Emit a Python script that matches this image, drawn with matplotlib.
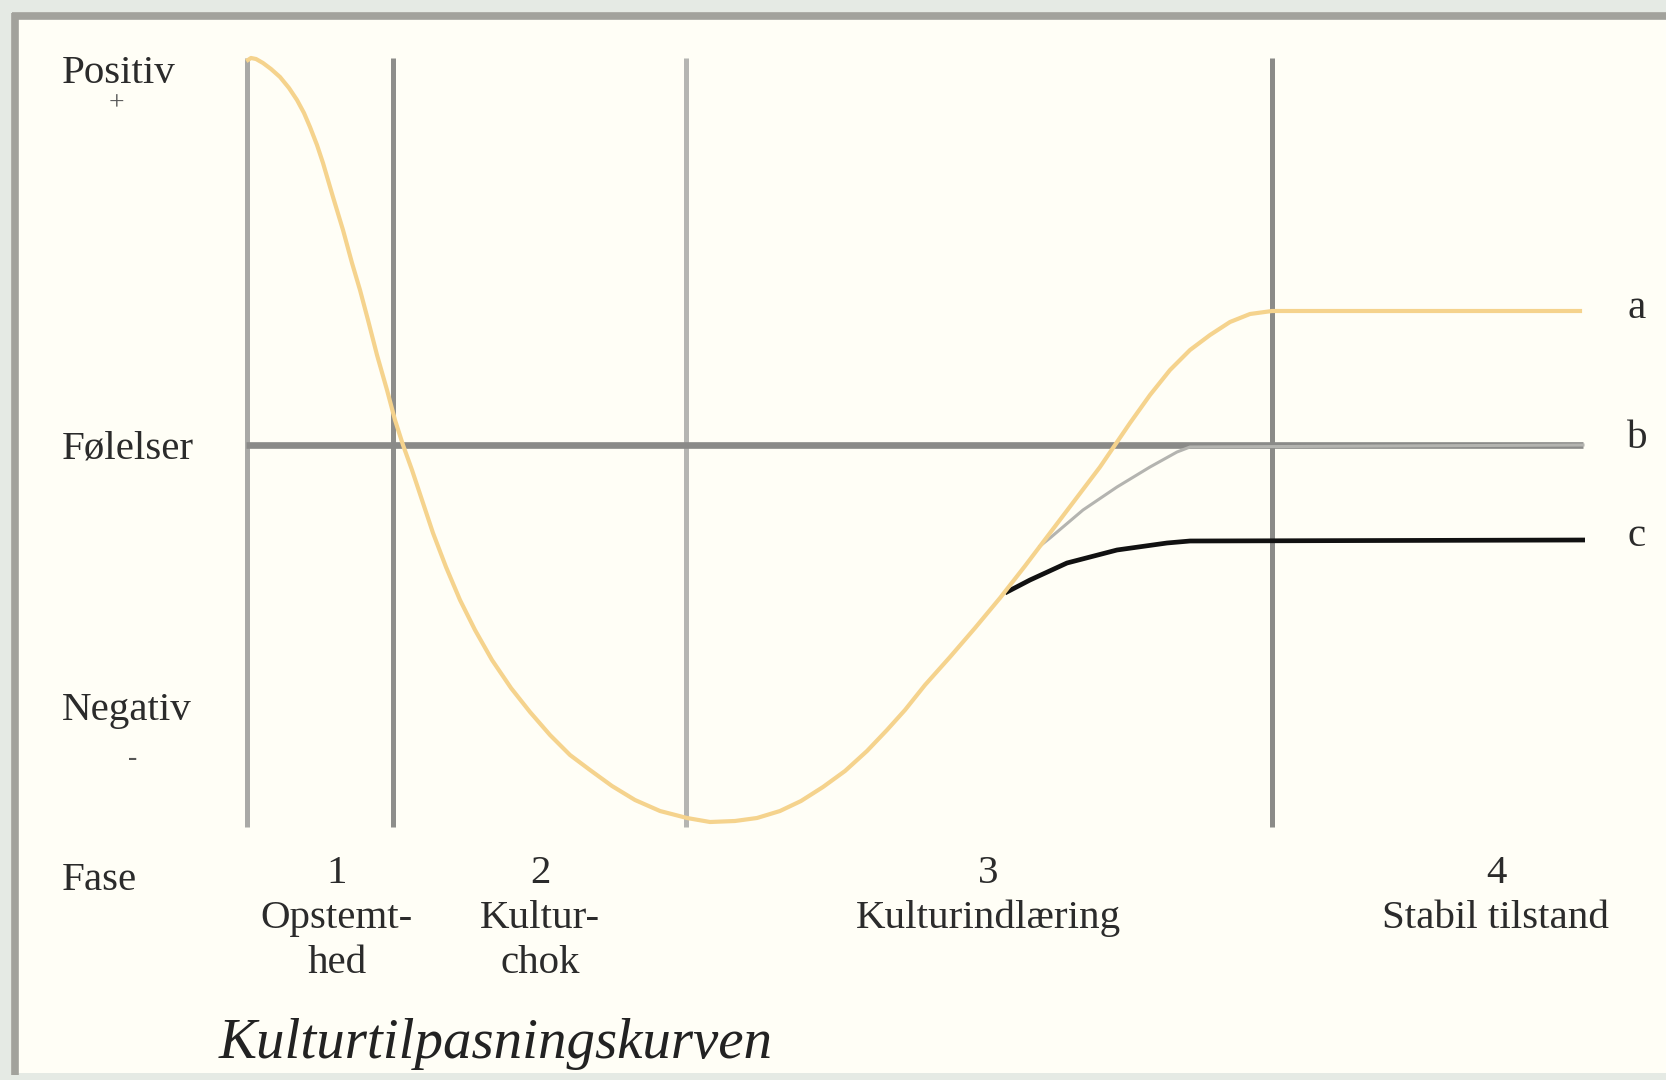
import matplotlib
matplotlib.use("Agg")
import matplotlib.pyplot as plt
from matplotlib.patches import Rectangle

# Diagram coordinates (pixel-like units, y grows downwards)
# curve a: the main culture-adaptation curve (orange)
curve_a_x = [248, 251, 256, 263, 271, 280, 289, 297, 304, 310, 317, 323, 333, 343,
             352, 360, 368, 377, 387, 395, 403, 412, 422, 433, 446, 460, 475, 492,
             511, 530, 550, 570, 590, 612, 635, 660, 687, 710, 735, 757, 780, 801,
             823, 845, 867, 887, 905, 925, 950, 975, 1000, 1025, 1050, 1075, 1100,
             1115, 1130, 1150, 1170, 1190, 1210, 1230, 1250, 1272, 1580]
curve_a_y = [60, 58, 59, 63, 69, 77, 88, 100, 113, 127, 145, 163, 197, 230,
             263, 290, 320, 355, 390, 420, 445, 470, 500, 533, 567, 600, 630, 660,
             688, 712, 735, 755, 770, 786, 800, 811, 818, 822, 821, 818, 811, 801,
             787, 771, 751, 730, 710, 685, 657, 628, 598, 566, 533, 500, 467,
             445, 423, 395, 370, 350, 335, 322, 314, 311, 311]

# curve b: branches off and ends on the neutral line (gray)
curve_b_x = [1040, 1050, 1083, 1117, 1150, 1177, 1190, 1583]
curve_b_y = [546, 538, 510, 487, 467, 452, 447, 445]

# curve c: branches off and stays below neutral (black)
curve_c_x = [1005, 1030, 1067, 1117, 1167, 1190, 1585]
curve_c_y = [593, 580, 563, 550, 543, 541, 540]

neutral_x = [246, 1583]
neutral_y = [445, 445]

phase_edges = [247, 393, 686, 1272]
phase_top, phase_bottom = 58, 827
phase_colors = ["#a9a9a6", "#8e8e8b", "#b5b5b2", "#8b8b88"]

phase_numbers = ["1", "2", "3", "4"]
phase_names = [["Opstemt-", "hed"], ["Kultur-", "chok"], ["Kulturindlæring"], ["Stabil tilstand"]]
phase_label_x = [337, 540, 988, 1496]

feeling_labels = ["Positiv", "Følelser", "Negativ", "Fase"]
feeling_label_y = [83, 458, 720, 890]
feeling_signs = ["+", "-"]
feeling_sign_xy = [(116, 104), (133, 758)]

curve_names = ["a", "b", "c"]
curve_name_y = [308, 438, 537]

title = "Kulturtilpasningskurven"

W, H = 1666, 1080
fig = plt.figure(figsize=(W / 100, H / 100), dpi=100)
fig.patch.set_facecolor("#e5eae4")
ax = fig.add_axes([0, 0, 1, 1])
ax.set_xlim(0, W)
ax.set_ylim(H, 0)
ax.axis("off")

# panel with a shadowed top/left border
ax.add_patch(Rectangle((15, 15), W, 1058, facecolor="#fffef6", edgecolor="none", zorder=0))
ax.plot([12, W], [16, 16], color="#a2a29c", lw=5.5, solid_capstyle="butt", zorder=1)
ax.plot([15, 15], [13, 1075], color="#a2a29c", lw=5.5, solid_capstyle="butt", zorder=1)

for x, c in zip(phase_edges, phase_colors):
    ax.plot([x, x], [phase_top, phase_bottom], color=c, lw=3.6, solid_capstyle="butt", zorder=2)

ax.plot(neutral_x, neutral_y, color="#8a8a88", lw=4.8, solid_capstyle="butt", zorder=3)

ax.plot(curve_b_x, curve_b_y, color="#b4b4b0", lw=2.2, zorder=4)
ax.plot(curve_c_x, curve_c_y, color="#111111", lw=3.4, solid_capstyle="butt", zorder=4)
ax.plot(curve_a_x, curve_a_y, color="#f5d38d", lw=3.0, solid_joinstyle="round", zorder=5)

txt = dict(family="Liberation Serif", fontsize=29.5, color="#2b2b2b")

for lab, y in zip(feeling_labels, feeling_label_y):
    ax.text(62, y, lab, ha="left", va="baseline", **txt)
for s, (x, y) in zip(feeling_signs, feeling_sign_xy):
    ax.text(x, y, s, ha="center", va="center", family="Liberation Serif",
            fontsize=20, color="#555555")

for num, names, x in zip(phase_numbers, phase_names, phase_label_x):
    ax.text(x, 883, num, ha="center", va="baseline", **txt)
    for i, line in enumerate(names):
        ax.text(x, 928 + 45 * i, line, ha="center", va="baseline", **txt)

for name, y in zip(curve_names, curve_name_y):
    ax.text(1637, y, name, ha="center", va="center", **txt)

ax.text(219, 1058, title, ha="left", va="baseline", family="Liberation Serif",
        style="italic", fontsize=41, color="#222222")

fig.savefig("out.png", dpi=100, facecolor=fig.get_facecolor())
